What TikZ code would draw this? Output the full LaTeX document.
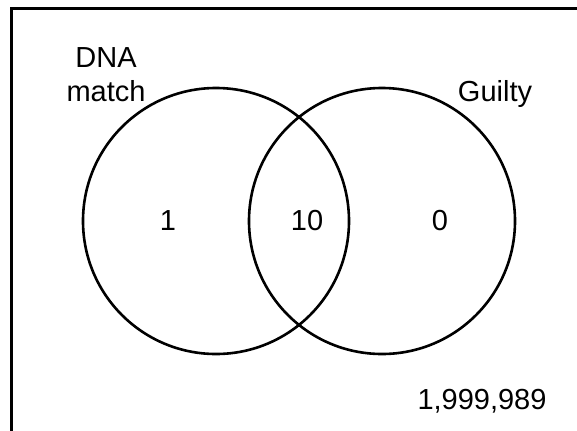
\documentclass[tikz,border=0pt]{standalone}
\usepackage{fontspec}
\setmainfont{Liberation Sans}
\usetikzlibrary{positioning}

\tikzset{
	setline/.style={line width=1.3pt, color=black},
	framelabel/.style={font=\fontsize{14.5}{17}\selectfont, inner sep=0pt},
}

\begin{document}
\begin{tikzpicture}[x=0.5pt, y=-0.5pt]
		%%%%% START %%%%%
		
		\useasboundingbox (0, 0) rectangle (577, 430);
		
		% universe frame
		\draw[line width=1.5pt] (580, 8) -- (11, 8) -- (11, 433);
		
		% the two sets
		\draw[setline] (216, 221) circle (133);
		\draw[setline] (382, 221) circle (133);
		
		\node[framelabel, align=center, anchor=base] (dna) at (106, 101.5) {DNA\\match};
		\node[framelabel, anchor=base] (guilty) at (495, 101) {Guilty};
		
		\node[framelabel] (onlydna) at (168, 220.5) {1};
		\node[framelabel] (both) at (307, 220.5) {10};
		\node[framelabel] (onlyguilty) at (440, 220.5) {0};
		
		\node[framelabel, anchor=base] (rest) at (482, 409) {1,999,989};
		
		%%%%% END %%%%%
	\end{tikzpicture}
\end{document}
